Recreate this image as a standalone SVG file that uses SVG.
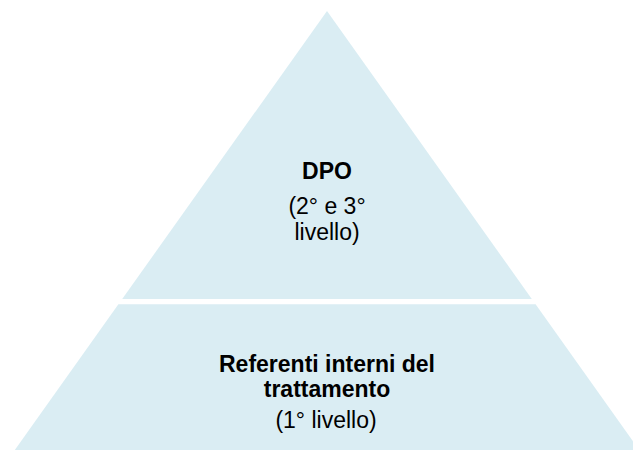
<svg xmlns="http://www.w3.org/2000/svg" width="633" height="450" viewBox="0 0 633 450">
<style>
.tier{fill:#DAEDF3;stroke:none}
.t{font-family:"Liberation Sans",Arial,sans-serif;font-size:23px;fill:#000;text-anchor:middle}
.b{font-weight:bold}
</style>
<rect width="633" height="450" fill="#FFFFFF"/>
<g id="top-tier">
<polygon class="tier" points="327,11 531.8,299 122.2,299"/>
<text class="t b" x="327" y="179" font-size="22">DPO</text>
<text class="t" x="327" y="214">(2° e 3°</text>
<text class="t" x="327" y="240">livello)</text>
</g>
<g id="bottom-tier">
<polygon class="tier" points="118.4,304.3 535.6,304.3 639.2,450 14.8,450"/>
<text class="t b" x="327" y="372">Referenti interni del</text>
<text class="t b" x="327" y="397">trattamento</text>
<text class="t" x="326" y="428">(1° livello)</text>
</g>
<g id="connectors"/>
</svg>
